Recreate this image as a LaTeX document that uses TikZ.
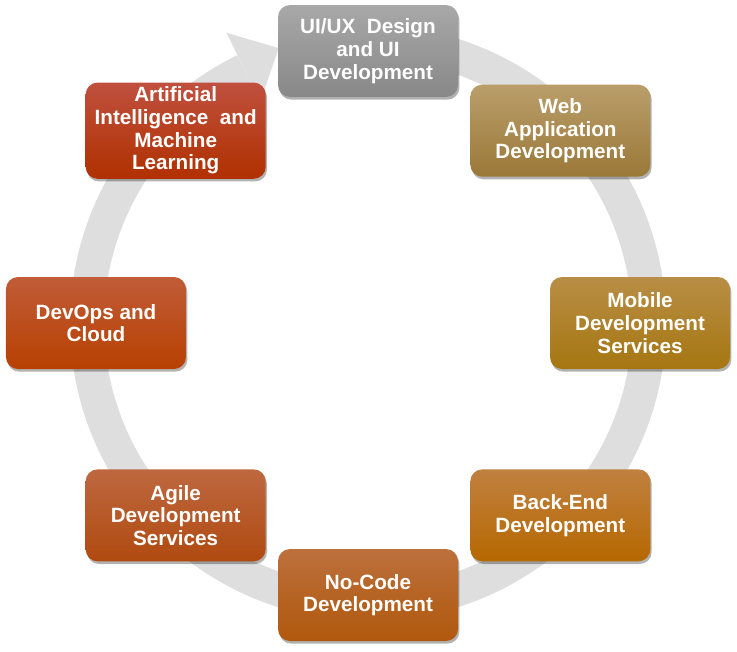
\documentclass[tikz,border=0pt]{standalone}
\usepackage{fontspec}
\setmainfont{Liberation Sans}
\usepackage{tikz}
\usetikzlibrary{shadows, positioning}

\definecolor{ringgray}{HTML}{DEDEDE}

\begin{document}
\begin{tikzpicture}[x=0.75pt, y=0.75pt,
    box/.style={rounded corners=9pt, minimum width=135pt, minimum height=69pt,
        align=center, text=white, font=\bfseries\fontsize{15.5}{17}\selectfont,
        drop shadow={shadow xshift=1pt, shadow yshift=-2pt, opacity=0.3, fill=black}}]
    \useasboundingbox (-368,-328) rectangle (369,323);

    % ring with arrow head
    \draw [line width=25.5pt, ringgray] (100:281) arc [start angle=100, end angle=-244, radius=281];
    \fill [ringgray] (116:246) -- (116:323) -- (108:289) -- cycle;

    \node (uiux) [box, top color={rgb,255:red,168;green,168;blue,168}, bottom color={rgb,255:red,136;green,136;blue,136}] at (90:272) {UI/UX\ \ Design\\and UI\\Development};
    \node (webapp) [box, top color={rgb,255:red,186;green,158;blue,106}, bottom color={rgb,255:red,154;green,120;blue,56}] at (45:272) {Web\\Application\\Development};
    \node (mobile) [box, top color={rgb,255:red,184;green,142;blue,70}, bottom color={rgb,255:red,166;green,118;blue,16}] at (0:272) {Mobile\\Development\\Services};
    \node (backend) [box, top color={rgb,255:red,192;green,128;blue,64}, bottom color={rgb,255:red,182;green,104;blue,0}] at (-45:272) {Back-End\\Development};
    \node (nocode) [box, top color={rgb,255:red,188;green,112;blue,60}, bottom color={rgb,255:red,176;green,88;blue,12}] at (-90:272) {No-Code\\Development};
    \node (agile) [box, top color={rgb,255:red,190;green,104;blue,64}, bottom color={rgb,255:red,176;green,74;blue,16}] at (-135:272) {Agile\\Development\\Services};
    \node (devops) [box, top color={rgb,255:red,192;green,92;blue,56}, bottom color={rgb,255:red,184;green,64;blue,0}] at (180:272) {DevOps and\\Cloud};
    \node (aiml) [box, top color={rgb,255:red,192;green,80;blue,62}, bottom color={rgb,255:red,176;green,48;blue,0}] at (135:272) {Artificial\\Intelligence\ \ and\\Machine\\Learning};

\end{tikzpicture}
\end{document}
